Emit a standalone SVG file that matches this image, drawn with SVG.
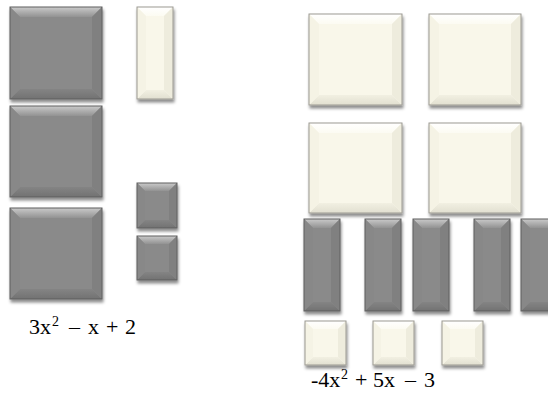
<svg xmlns="http://www.w3.org/2000/svg" width="548" height="395" viewBox="0 0 548 395">
<defs>
<filter id="sh" x="-20%" y="-20%" width="140%" height="140%">
<feDropShadow dx="1" dy="3" stdDeviation="1.6" flood-color="#000" flood-opacity="0.45"/>
</filter>
<linearGradient id="dTop" x1="0" y1="0" x2="0" y2="1">
<stop offset="0" stop-color="#cacaca"/><stop offset="1" stop-color="#929292"/>
</linearGradient>
<linearGradient id="wTop" x1="0" y1="0" x2="0" y2="1">
<stop offset="0" stop-color="#ffffff"/><stop offset="1" stop-color="#fcfbf2"/>
</linearGradient>
<linearGradient id="dBot" x1="0" y1="0" x2="0" y2="1">
<stop offset="0" stop-color="#848484"/><stop offset="1" stop-color="#727272"/>
</linearGradient>
<linearGradient id="wBot" x1="0" y1="0" x2="0" y2="1">
<stop offset="0" stop-color="#f2f0e2"/><stop offset="1" stop-color="#e1dfd0"/>
</linearGradient>
</defs>
<style>
.d .face{fill:#8a8a8a}
.d .top{fill:url(#dTop)}
.d .bot{fill:url(#dBot)}
.d .lft{fill:#888888}
.d .rgt{fill:#808080}
.d .edge{fill:none;stroke:#5e5e5e;stroke-width:1}
.w .face{fill:#f9f7ea}
.w .top{fill:url(#wTop)}
.w .bot{fill:url(#wBot)}
.w .lft{fill:#f5f3e5}
.w .rgt{fill:#eeecdd}
.w .edge{fill:none;stroke:#9c9a92;stroke-width:1}
.tile{filter:url(#sh)}
</style>

<g id="left-x2-1" class="tile d">
<rect class="face" x="10" y="7" width="92" height="92"/>
<polygon class="top" points="10,7 102,7 92,17 20,17"/>
<polygon class="bot" points="10,99 102,99 92,89 20,89"/>
<polygon class="lft" points="10,7 20,17 20,89 10,99"/>
<polygon class="rgt" points="102,7 92,17 92,89 102,99"/>
<rect class="edge" x="10" y="7" width="92" height="92"/>
</g>
<g id="left-x2-2" class="tile d">
<rect class="face" x="10" y="106" width="92" height="91"/>
<polygon class="top" points="10,106 102,106 92,116 20,116"/>
<polygon class="bot" points="10,197 102,197 92,187 20,187"/>
<polygon class="lft" points="10,106 20,116 20,187 10,197"/>
<polygon class="rgt" points="102,106 92,116 92,187 102,197"/>
<rect class="edge" x="10" y="106" width="92" height="91"/>
</g>
<g id="left-x2-3" class="tile d">
<rect class="face" x="10" y="208" width="92" height="91"/>
<polygon class="top" points="10,208 102,208 92,218 20,218"/>
<polygon class="bot" points="10,299 102,299 92,289 20,289"/>
<polygon class="lft" points="10,208 20,218 20,289 10,299"/>
<polygon class="rgt" points="102,208 92,218 92,289 102,299"/>
<rect class="edge" x="10" y="208" width="92" height="91"/>
</g>
<g id="left-negx" class="tile w">
<rect class="face" x="137" y="7" width="36" height="92"/>
<polygon class="top" points="137,7 173,7 164,16 146,16"/>
<polygon class="bot" points="137,99 173,99 164,90 146,90"/>
<polygon class="lft" points="137,7 146,16 146,90 137,99"/>
<polygon class="rgt" points="173,7 164,16 164,90 173,99"/>
<rect class="edge" x="137" y="7" width="36" height="92"/>
</g>
<g id="left-one-1" class="tile d">
<rect class="face" x="137" y="183" width="40" height="45"/>
<polygon class="top" points="137,183 177,183 169,191 145,191"/>
<polygon class="bot" points="137,228 177,228 169,220 145,220"/>
<polygon class="lft" points="137,183 145,191 145,220 137,228"/>
<polygon class="rgt" points="177,183 169,191 169,220 177,228"/>
<rect class="edge" x="137" y="183" width="40" height="45"/>
</g>
<g id="left-one-2" class="tile d">
<rect class="face" x="137" y="236" width="40" height="44"/>
<polygon class="top" points="137,236 177,236 169,244 145,244"/>
<polygon class="bot" points="137,280 177,280 169,272 145,272"/>
<polygon class="lft" points="137,236 145,244 145,272 137,280"/>
<polygon class="rgt" points="177,236 169,244 169,272 177,280"/>
<rect class="edge" x="137" y="236" width="40" height="44"/>
</g>

<g id="right-negx2-1" class="tile w">
<rect class="face" x="309" y="14" width="93" height="91"/>
<polygon class="top" points="309,14 402,14 392,24 319,24"/>
<polygon class="bot" points="309,105 402,105 392,95 319,95"/>
<polygon class="lft" points="309,14 319,24 319,95 309,105"/>
<polygon class="rgt" points="402,14 392,24 392,95 402,105"/>
<rect class="edge" x="309" y="14" width="93" height="91"/>
</g>
<g id="right-negx2-2" class="tile w">
<rect class="face" x="429" y="14" width="92" height="91"/>
<polygon class="top" points="429,14 521,14 511,24 439,24"/>
<polygon class="bot" points="429,105 521,105 511,95 439,95"/>
<polygon class="lft" points="429,14 439,24 439,95 429,105"/>
<polygon class="rgt" points="521,14 511,24 511,95 521,105"/>
<rect class="edge" x="429" y="14" width="92" height="91"/>
</g>
<g id="right-negx2-3" class="tile w">
<rect class="face" x="309" y="123" width="93" height="90"/>
<polygon class="top" points="309,123 402,123 392,133 319,133"/>
<polygon class="bot" points="309,213 402,213 392,203 319,203"/>
<polygon class="lft" points="309,123 319,133 319,203 309,213"/>
<polygon class="rgt" points="402,123 392,133 392,203 402,213"/>
<rect class="edge" x="309" y="123" width="93" height="90"/>
</g>
<g id="right-negx2-4" class="tile w">
<rect class="face" x="429" y="123" width="92" height="90"/>
<polygon class="top" points="429,123 521,123 511,133 439,133"/>
<polygon class="bot" points="429,213 521,213 511,203 439,203"/>
<polygon class="lft" points="429,123 439,133 439,203 429,213"/>
<polygon class="rgt" points="521,123 511,133 511,203 521,213"/>
<rect class="edge" x="429" y="123" width="92" height="90"/>
</g>

<g id="right-x-1" class="tile d">
<rect class="face" x="304" y="219" width="36" height="92"/>
<polygon class="top" points="304,219 340,219 331,228 313,228"/>
<polygon class="bot" points="304,311 340,311 331,302 313,302"/>
<polygon class="lft" points="304,219 313,228 313,302 304,311"/>
<polygon class="rgt" points="340,219 331,228 331,302 340,311"/>
<rect class="edge" x="304" y="219" width="36" height="92"/>
</g>
<g id="right-x-2" class="tile d">
<rect class="face" x="365" y="219" width="36" height="92"/>
<polygon class="top" points="365,219 401,219 392,228 374,228"/>
<polygon class="bot" points="365,311 401,311 392,302 374,302"/>
<polygon class="lft" points="365,219 374,228 374,302 365,311"/>
<polygon class="rgt" points="401,219 392,228 392,302 401,311"/>
<rect class="edge" x="365" y="219" width="36" height="92"/>
</g>
<g id="right-x-3" class="tile d">
<rect class="face" x="413" y="219" width="36" height="92"/>
<polygon class="top" points="413,219 449,219 440,228 422,228"/>
<polygon class="bot" points="413,311 449,311 440,302 422,302"/>
<polygon class="lft" points="413,219 422,228 422,302 413,311"/>
<polygon class="rgt" points="449,219 440,228 440,302 449,311"/>
<rect class="edge" x="413" y="219" width="36" height="92"/>
</g>
<g id="right-x-4" class="tile d">
<rect class="face" x="474" y="219" width="36" height="92"/>
<polygon class="top" points="474,219 510,219 501,228 483,228"/>
<polygon class="bot" points="474,311 510,311 501,302 483,302"/>
<polygon class="lft" points="474,219 483,228 483,302 474,311"/>
<polygon class="rgt" points="510,219 501,228 501,302 510,311"/>
<rect class="edge" x="474" y="219" width="36" height="92"/>
</g>
<g id="right-x-5" class="tile d">
<rect class="face" x="521" y="219" width="36" height="92"/>
<polygon class="top" points="521,219 557,219 548,228 530,228"/>
<polygon class="bot" points="521,311 557,311 548,302 530,302"/>
<polygon class="lft" points="521,219 530,228 530,302 521,311"/>
<polygon class="rgt" points="557,219 548,228 548,302 557,311"/>
<rect class="edge" x="521" y="219" width="36" height="92"/>
</g>

<g id="right-neg1-1" class="tile w">
<rect class="face" x="305" y="321" width="41" height="44"/>
<polygon class="top" points="305,321 346,321 338,329 313,329"/>
<polygon class="bot" points="305,365 346,365 338,357 313,357"/>
<polygon class="lft" points="305,321 313,329 313,357 305,365"/>
<polygon class="rgt" points="346,321 338,329 338,357 346,365"/>
<rect class="edge" x="305" y="321" width="41" height="44"/>
</g>
<g id="right-neg1-2" class="tile w">
<rect class="face" x="373" y="321" width="41" height="44"/>
<polygon class="top" points="373,321 414,321 406,329 381,329"/>
<polygon class="bot" points="373,365 414,365 406,357 381,357"/>
<polygon class="lft" points="373,321 381,329 381,357 373,365"/>
<polygon class="rgt" points="414,321 406,329 406,357 414,365"/>
<rect class="edge" x="373" y="321" width="41" height="44"/>
</g>
<g id="right-neg1-3" class="tile w">
<rect class="face" x="442" y="321" width="41" height="44"/>
<polygon class="top" points="442,321 483,321 475,329 450,329"/>
<polygon class="bot" points="442,365 483,365 475,357 450,357"/>
<polygon class="lft" points="442,321 450,329 450,357 442,365"/>
<polygon class="rgt" points="483,321 475,329 475,357 483,365"/>
<rect class="edge" x="442" y="321" width="41" height="44"/>
</g>

<g id="connectors"/>

<g id="label-left">
<text x="29" y="334" font-family="Liberation Serif, Times New Roman, serif" font-size="22" fill="#000">3x<tspan font-size="14" x="52" y="326">2</tspan><tspan x="69" y="334">–</tspan><tspan x="88">x</tspan><tspan x="106">+</tspan><tspan x="125">2</tspan></text>
</g>
<g id="label-right">
<text x="311" y="387" font-family="Liberation Serif, Times New Roman, serif" font-size="22" fill="#000">-4x<tspan font-size="14" x="341" y="379">2</tspan><tspan x="355" y="387">+</tspan><tspan x="373">5x</tspan><tspan x="405">–</tspan><tspan x="424">3</tspan></text>
</g>
</svg>
